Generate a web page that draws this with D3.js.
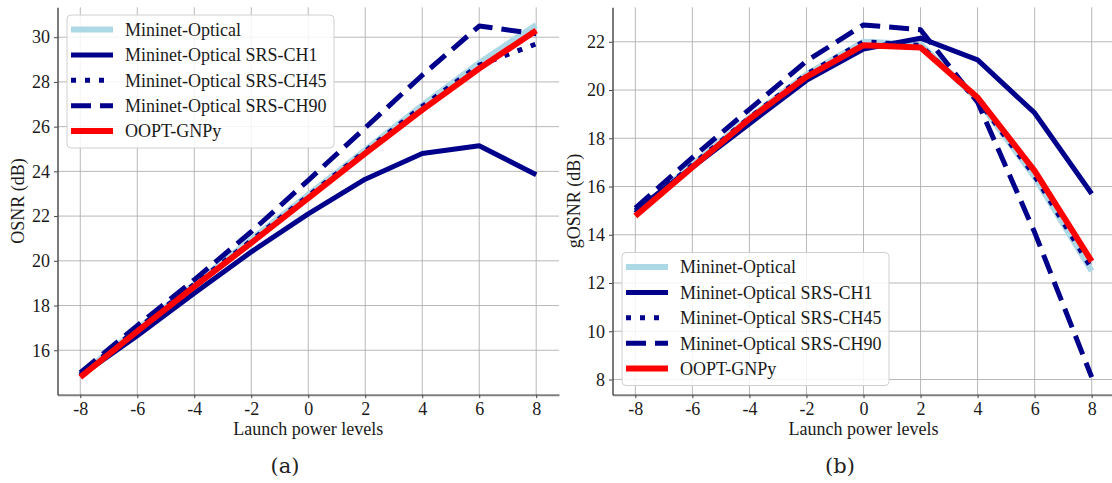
<!DOCTYPE html>
<html>
<head>
<meta charset="utf-8">
<script src="https://cdn.jsdelivr.net/npm/d3@7"></script>
<style>
  body { margin: 0; background: #fff; }
</style>
</head>
<body>
<div id="chart"></div>
<script>
// Launch power levels (x)
const powers = [-8, -6, -4, -2, 0, 2, 4, 6, 8];
const xTicks = [-8, -6, -4, -2, 0, 2, 4, 6, 8];

// Panel (a) OSNR
const osnrMininet = [14.9, 16.95, 18.95, 20.95, 22.95, 24.95, 26.95, 28.85, 30.55];
const osnrCH1     = [14.85, 16.65, 18.55, 20.4, 22.1, 23.65, 24.8, 25.15, 23.85];
const osnrCH45    = [14.9, 16.95, 18.95, 20.9, 22.9, 24.9, 26.9, 28.75, 29.7];
const osnrCH90    = [15.0, 17.1, 19.15, 21.3, 23.6, 25.95, 28.3, 30.5, 30.15];
const osnrGNPy    = [14.8, 16.85, 18.85, 20.8, 22.8, 24.8, 26.75, 28.6, 30.3];
const osnrTicks = [16, 18, 20, 22, 24, 26, 28, 30];

// Panel (b) gOSNR
const gosnrMininet = [14.9, 16.9, 18.85, 20.65, 22.0, 21.9, 19.6, 16.4, 12.5];
const gosnrCH1     = [15.0, 16.8, 18.6, 20.4, 21.7, 22.15, 21.25, 19.05, 15.7];
const gosnrCH45    = [14.9, 16.9, 18.85, 20.65, 22.0, 21.85, 19.6, 16.45, 12.6];
const gosnrCH90    = [15.1, 17.2, 19.2, 21.2, 22.7, 22.5, 19.5, 14.1, 8.1];
const gosnrGNPy    = [14.78, 16.8, 18.8, 20.55, 21.86, 21.76, 19.69, 16.65, 12.9];
const gosnrTicks = [8, 10, 12, 14, 16, 18, 20, 22];

const seriesNames = ["Mininet-Optical", "Mininet-Optical SRS-CH1", "Mininet-Optical SRS-CH45",
                     "Mininet-Optical SRS-CH90", "OOPT-GNPy"];

// styles per series
const styles = [
    { color: "#add8e6", dash: null, width: 6 },
    { color: "#00008b", dash: null, width: 5 },
    { color: "#00008b", dash: "5,9", width: 5 },
    { color: "#00008b", dash: "20,9", width: 5 },
    { color: "#ff0000", dash: null, width: 6 }
];

const FONT = "'Liberation Serif', 'Times New Roman', Times, serif";
const W = 1112, H = 483;
const svg = d3.select("#chart").append("svg")
    .attr("width", W).attr("height", H);

function panel(opts) {
    const x = d3.scaleLinear().domain([-8.8, 8.8]).range([opts.left, opts.right]);
    const all = opts.series.flat();
    const lo = d3.min(all), hi = d3.max(all), pad = (hi - lo) * 0.05;
    const y = d3.scaleLinear().domain([lo - pad, hi + pad]).range([opts.bottom, opts.top]);

    const g = svg.append("g");

    // grid
    g.append("g").selectAll("line").data(xTicks).enter().append("line")
        .attr("x1", d => x(d)).attr("x2", d => x(d))
        .attr("y1", opts.top).attr("y2", opts.bottom)
        .attr("stroke", "#b0b0b0").attr("stroke-width", 0.9);
    g.append("g").selectAll("line").data(opts.yTicks).enter().append("line")
        .attr("x1", opts.left).attr("x2", opts.right)
        .attr("y1", d => y(d)).attr("y2", d => y(d))
        .attr("stroke", "#b0b0b0").attr("stroke-width", 0.9);

    // axes
    const xAxis = g.append("g")
        .attr("transform", `translate(0,${opts.bottom})`)
        .call(d3.axisBottom(x).tickValues(xTicks).tickSize(3.5).tickSizeOuter(0).tickPadding(4)
            .tickFormat(d => d));
    xAxis.select(".domain").attr("stroke", "#808080").attr("stroke-width", 2);
    xAxis.selectAll(".tick line").attr("stroke", "#444");
    xAxis.selectAll("text").style("font-family", FONT).style("font-size", "18px").attr("fill", "#1a1a1a");

    const yAxis = g.append("g")
        .attr("transform", `translate(${opts.left},0)`)
        .call(d3.axisLeft(y).tickValues(opts.yTicks).tickSize(3.5).tickSizeOuter(0).tickPadding(4));
    yAxis.select(".domain").attr("stroke", "#333").attr("stroke-width", 1.3);
    yAxis.selectAll(".tick line").attr("stroke", "#444");
    yAxis.selectAll("text").style("font-family", FONT).style("font-size", "18px").attr("fill", "#1a1a1a");

    // lines
    const line = d3.line().x((d, i) => x(powers[i])).y(d => y(d));
    opts.series.forEach((s, i) => {
        const st = styles[i];
        g.append("path").datum(s)
            .attr("d", line)
            .attr("fill", "none")
            .attr("stroke", st.color)
            .attr("stroke-width", st.width)
            .attr("stroke-dasharray", st.dash)
            .attr("stroke-linejoin", "round")
            .attr("stroke-linecap", "butt");
    });

    // axis labels
    g.append("text")
        .attr("x", (opts.left + opts.right) / 2).attr("y", 435)
        .attr("text-anchor", "middle")
        .style("font-family", FONT).style("font-size", "18px").attr("fill", "#1a1a1a")
        .text("Launch power levels");
    g.append("text")
        .attr("transform", `translate(${opts.ylabX},${(opts.top + opts.bottom) / 2}) rotate(-90)`)
        .attr("text-anchor", "middle").attr("dy", "0.35em")
        .style("font-family", FONT).style("font-size", "18px").attr("fill", "#1a1a1a")
        .text(opts.ylab);

    // sub caption
    g.append("text")
        .attr("x", opts.capX).attr("y", 473)
        .attr("text-anchor", "middle").attr("fill", "#222")
        .style("font-family", "'DejaVu Serif', serif").style("font-size", "21px")
        .text(opts.caption);

    // legend
    const lg = g.append("g").attr("transform", `translate(${opts.legX},${opts.legY})`);
    lg.append("rect")
        .attr("width", 267).attr("height", 133).attr("rx", 4)
        .attr("fill", "rgba(255,255,255,0.85)").attr("stroke", "#d0d0d0");
    seriesNames.forEach((name, i) => {
        const st = styles[i];
        const ry = 14.5 + i * 25.4;
        lg.append("line")
            .attr("x1", 4).attr("x2", 46).attr("y1", ry).attr("y2", ry)
            .attr("stroke", st.color).attr("stroke-width", st.width)
            .attr("stroke-dasharray", st.dash);
        lg.append("text")
            .attr("x", 58).attr("y", ry).attr("dy", "0.35em")
            .style("font-family", FONT).style("font-size", "18px").attr("fill", "#1a1a1a")
            .text(name);
    });
}

panel({
    left: 57.5, right: 559, top: 7.3, bottom: 394.7,
    series: [osnrMininet, osnrCH1, osnrCH45, osnrCH90, osnrGNPy],
    yTicks: osnrTicks, ylab: "OSNR (dB)", ylabX: 18,
    caption: "(a)", capX: 285, legX: 67, legY: 15
});
panel({
    left: 612.5, right: 1114.5, top: 7.3, bottom: 394.7,
    series: [gosnrMininet, gosnrCH1, gosnrCH45, gosnrCH90, gosnrGNPy],
    yTicks: gosnrTicks, ylab: "gOSNR (dB)", ylabX: 574,
    caption: "(b)", capX: 840, legX: 622, legY: 252.5
});
</script>
</body>
</html>
